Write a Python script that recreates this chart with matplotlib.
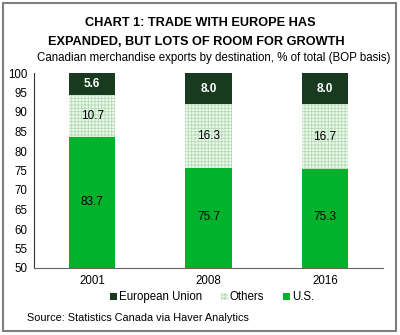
import matplotlib.pyplot as plt
from matplotlib.patches import Rectangle

plt.rcParams['font.family'] = ['Liberation Sans', 'DejaVu Sans']
plt.rcParams['hatch.linewidth'] = 0.6

years = ['2001', '2008', '2016']
us = [83.7, 75.7, 75.3]
others = [10.7, 16.3, 16.7]
eu = [5.6, 8.0, 8.0]
# where the U.S. value labels sit
us_label_y = [66.9, 63.1, 63.1]

us_color = '#00b32a'
eu_color = '#183a1e'
oth_color = '#b2dcb2'

fig = plt.figure(figsize=(4.0, 3.35), dpi=100)
ax = fig.add_axes([34 / 400, 1 - 268 / 335, 349 / 400, 195 / 335])

x = list(range(len(years)))
w = 0.40
eb = [u + o for u, o in zip(us, others)]
b1 = ax.bar(x, us, w, color=us_color, linewidth=0, label='U.S.')
b2 = ax.bar(x, others, w, bottom=us, color='#eef8ee',
            edgecolor=oth_color, hatch='+++++', linewidth=0, label='Others')
b3 = ax.bar(x, eu, w, bottom=eb, color=eu_color, linewidth=0,
            label='European Union')

for i in x:
    ax.text(i, us_label_y[i], f'{us[i]:.1f}', ha='center', va='center',
            fontsize=8.5)
    ax.text(i, us[i] + others[i] / 2, f'{others[i]:.1f}', ha='center',
            va='center', fontsize=8.5)
    ax.text(i, eb[i] + eu[i] / 2, f'{eu[i]:.1f}', ha='center', va='center',
            fontsize=8.5, color='white', fontweight='bold')

ax.set_ylim(50, 100)
ax.set_xlim(-0.5, 2.5)
ax.set_yticks(range(50, 101, 5))
ax.set_xticks(x)
ax.set_xticklabels(years)
ax.tick_params(length=0, labelsize=8.3, pad=5)
for s in ('top', 'right'):
    ax.spines[s].set_visible(False)
ax.spines['left'].set_color('#333333')
ax.spines['bottom'].set_color('#666666')

ax.legend(handles=[b3, b2, b1], loc='center', bbox_to_anchor=(0.51, -0.15),
          ncol=3, frameon=False, fontsize=8.3, handlelength=0.6,
          handleheight=0.6, handletextpad=0.2, columnspacing=1.6)

fig.text(0.5, 1 - 23 / 335, 'CHART 1: TRADE WITH EUROPE HAS', ha='center',
         va='center', fontsize=9.2, fontweight='bold')
fig.text(0.49, 1 - 42 / 335, 'EXPANDED, BUT LOTS OF ROOM FOR GROWTH',
         ha='center', va='center', fontsize=9.2, fontweight='bold')
fig.text(0.535, 1 - 58.5 / 335,
         'Canadian merchandise exports by destination, % of total (BOP basis)',
         ha='center', va='center', fontsize=8.3)
fig.text(27 / 400, 1 - 318 / 335, 'Source: Statistics Canada via Haver Analytics',
         ha='left', va='center', fontsize=7.8)

fig.patches.append(Rectangle((3 / 400, 4 / 335), 393 / 400, 328 / 335,
                             transform=fig.transFigure, fill=False,
                             edgecolor='#7f7f7f', linewidth=1.5))

fig.savefig('out.png', dpi=100)
